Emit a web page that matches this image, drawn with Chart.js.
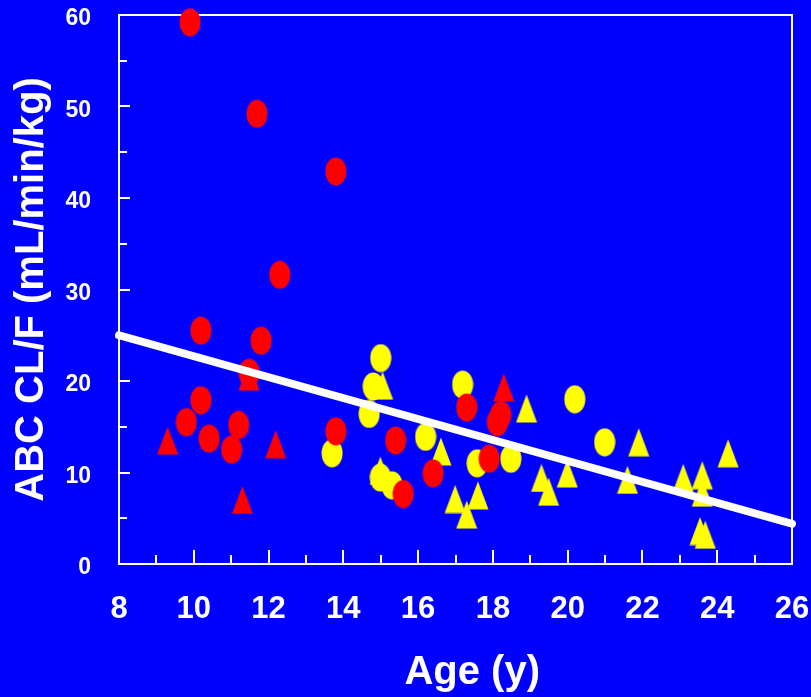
<!DOCTYPE html>
<html>
<head>
<meta charset="utf-8">
<script src="https://cdn.jsdelivr.net/npm/chart.js@4/dist/chart.umd.min.js"></script>
<style>
  html, body { margin: 0; padding: 0; background: #0000ff; }
  #wrap { width: 811px; height: 697px; }
</style>
</head>
<body>
<div id="wrap"><canvas id="clChart" width="811" height="697"></canvas></div>
<script>
// age (y) and clearance (mL/min/kg) per group
const redCircleAge = [9.90, 11.69, 13.80, 12.30, 10.19, 11.80, 11.48, 10.19, 9.80, 10.41, 11.20, 11.01, 13.80, 15.40, 15.60, 16.40, 17.30, 18.21, 18.12, 17.90];
const redCircleCl  = [59.2, 49.2, 42.9, 31.6, 25.5, 24.4, 20.9, 17.9, 15.5, 13.7, 15.2, 12.5, 14.5, 13.5, 7.65, 9.9, 17.1, 16.3, 15.5, 11.5];

const redTriAge = [9.30, 12.19, 11.30, 11.48, 18.29];
const redTriCl  = [13.5, 13.1, 7.0, 20.5, 19.3];

const yellowCircleAge = [13.70, 15.00, 14.80, 14.69, 16.20, 14.99, 15.30, 17.19, 17.58, 18.48, 20.19, 20.99];
const yellowCircleCl  = [12.1, 22.5, 19.4, 16.4, 13.9, 9.45, 8.6, 19.6, 11.0, 11.5, 18.0, 13.3];

const yellowTriAge = [15.05, 16.61, 14.99, 16.99, 17.60, 17.30, 18.90, 19.30, 19.49, 19.99, 21.60, 21.90, 23.09, 23.60, 23.60, 23.54, 23.68, 24.29];
const yellowTriCl  = [19.5, 12.3, 10.2, 7.1, 7.5, 5.4, 17.0, 9.4, 7.9, 9.9, 9.2, 13.3, 9.4, 9.7, 7.8, 3.6, 3.2, 12.1];

// regression line end points
const fitAge = [8, 26];
const fitCl  = [25.0, 4.4];

const FONT = '"Liberation Sans", Arial, Helvetica, sans-serif';

function toPoints(xs, ys) {
  return xs.map((x, i) => ({ x: x, y: ys[i] }));
}

// markers are slightly taller than wide, so build them as small canvases
function marker(shape, color) {
  const c = document.createElement('canvas');
  c.width = 22;
  c.height = 29;
  const g = c.getContext('2d');
  g.fillStyle = color;
  g.beginPath();
  if (shape === 'ellipse') {
    g.ellipse(11, 14.5, 10.5, 14, 0, 0, Math.PI * 2);
  } else {
    g.moveTo(11, 0.5);
    g.lineTo(21.5, 28.5);
    g.lineTo(0.5, 28.5);
    g.closePath();
  }
  g.fill();
  return c;
}

// frame round the plot and inward tick marks
const frameTicks = {
  id: 'frameTicks',
  beforeDatasetsDraw(chart) {
    const { ctx, chartArea: a, scales } = chart;
    ctx.save();
    ctx.strokeStyle = '#ffffff';
    ctx.lineWidth = 2;
    ctx.strokeRect(a.left, a.top, a.right - a.left, a.bottom - a.top);

    scales.y.ticks.forEach(t => {
      const py = Math.round(scales.y.getPixelForValue(t.value));
      const len = t.value % 10 === 0 ? 11 : 8;
      ctx.beginPath();
      ctx.moveTo(a.left, py);
      ctx.lineTo(a.left + len, py);
      ctx.stroke();
    });
    scales.x.ticks.forEach(t => {
      const px = Math.round(scales.x.getPixelForValue(t.value));
      const len = t.value % 2 === 0 ? 14 : 9;
      ctx.beginPath();
      ctx.moveTo(px, a.bottom);
      ctx.lineTo(px, a.bottom - len);
      ctx.stroke();
    });
    ctx.restore();
  }
};

const ctx = document.getElementById('clChart').getContext('2d');

new Chart(ctx, {
  type: 'scatter',
  data: {
    datasets: [
      {
        type: 'line',
        data: toPoints(fitAge, fitCl),
        borderColor: '#ffffff',
        borderWidth: 8,
        borderCapStyle: 'round',
        pointRadius: 0,
        fill: false,
        clip: false
      },
      { data: toPoints(redCircleAge, redCircleCl), pointStyle: marker('ellipse', '#ff0000'), clip: false },
      { data: toPoints(redTriAge, redTriCl), pointStyle: marker('triangle', '#ff0000'), clip: false },
      { data: toPoints(yellowCircleAge, yellowCircleCl), pointStyle: marker('ellipse', '#ffff00'), clip: false },
      { data: toPoints(yellowTriAge, yellowTriCl), pointStyle: marker('triangle', '#ffff00'), clip: false }
    ]
  },
  options: {
    responsive: false,
    animation: false,
    events: [],
    layout: { padding: { top: 15, right: 19, left: 0, bottom: 0 } },
    plugins: {
      legend: { display: false },
      tooltip: { enabled: false }
    },
    scales: {
      x: {
        type: 'linear',
        min: 8,
        max: 26,
        grid: { display: false },
        border: { display: false },
        ticks: {
          stepSize: 1,
          autoSkip: false,
          maxRotation: 0,
          color: '#ffffff',
          padding: 19,
          font: { family: FONT, size: 31, weight: 'bold' },
          callback: v => (v % 2 === 0 ? v : '')
        },
        title: {
          display: true,
          text: '   Age (y)',
          color: '#ffffff',
          padding: { top: 0, bottom: 0 },
          font: { family: FONT, size: 40, weight: 'bold' }
        },
        afterFit(scale) {
          scale.height = 133;
          scale.paddingLeft = 0;
          scale.paddingRight = 0;
        }
      },
      y: {
        min: 0,
        max: 60,
        grid: { display: false },
        border: { display: false },
        ticks: {
          stepSize: 5,
          autoSkip: false,
          color: '#ffffff',
          padding: 20,
          labelOffset: 4,
          font: { family: FONT, size: 23, weight: 'bold' },
          callback: v => (v % 10 === 0 ? v : '')
        },
        title: {
          display: true,
          text: 'ABC CL/F (mL/min/kg)',
          color: '#ffffff',
          padding: { top: 8, bottom: 0 },
          font: { family: FONT, size: 40, weight: 'bold' }
        },
        afterFit(scale) {
          scale.width = 119;
          scale.paddingTop = 0;
          scale.paddingBottom = 0;
        }
      }
    }
  },
  plugins: [frameTicks]
});
</script>
</body>
</html>
